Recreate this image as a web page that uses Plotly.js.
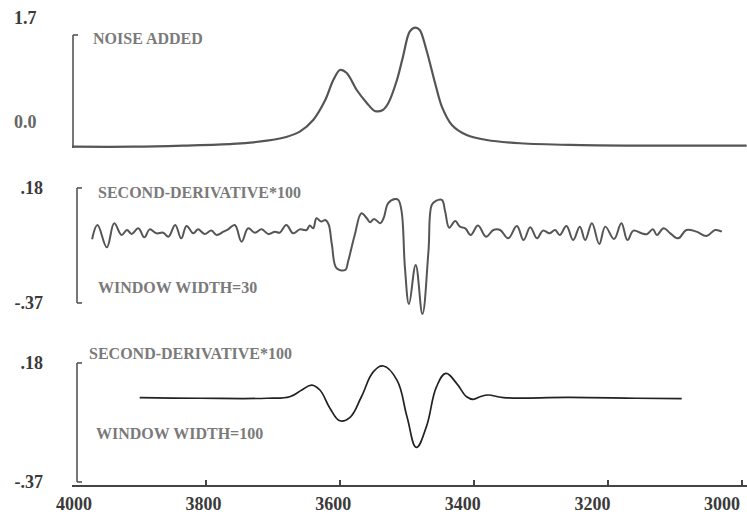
<!DOCTYPE html>
<html>
<head>
<meta charset="utf-8">
<script src="https://cdn.plot.ly/plotly-3.0.1.min.js"></script>
<style>html,body{margin:0;padding:0;background:#fff;}#chart{width:747px;height:516px;}</style>
</head>
<body>
<div id="chart"></div>
<script>
// ---- data (wavenumber, cm-1) ----
const noiseWn = [4000,3909,3834,3760,3709,3679,3660,3640,3622,3610,3600,3590,3575,3560,3548,3536,3528,3515,3506,3496,3488,3481,3471,3458,3448,3433,3411,3381,3331,3257,3157,2993];
const noiseAbs = [0.004,0.004,0.019,0.043,0.09,0.147,0.219,0.386,0.671,0.957,1.1,1.057,0.814,0.629,0.514,0.529,0.624,0.957,1.29,1.647,1.704,1.671,1.386,0.91,0.576,0.314,0.171,0.1,0.053,0.029,0.019,0.019];

const d30Wn = [3970,3962,3948,3937,3926,3918,3911,3901,3892,3884,3874,3864,3856,3846,3837,3829,3819,3812,3802,3792,3784,3774,3767,3757,3747,3737,3727,3717,3707,3697,3690,3680,3670,3660,3650,3645,3640,3635,3628,3622,3617,3612,3605,3592,3588,3578,3568,3560,3555,3549,3540,3535,3528,3518,3513,3508,3503,3497,3487,3477,3468,3463,3457,3448,3443,3437,3428,3421,3413,3405,3394,3382,3371,3361,3349,3336,3326,3316,3306,3297,3287,3279,3272,3262,3252,3242,3234,3224,3213,3204,3191,3180,3171,3162,3150,3142,3133,3127,3117,3107,3095,3083,3068,3053,3040,3030];
const d30Val = [-0.065,0.003,-0.104,0.011,-0.045,-0.021,-0.040,-0.013,-0.056,-0.018,-0.037,-0.034,-0.053,0.003,-0.061,-0.002,-0.037,-0.018,-0.040,-0.024,-0.045,-0.029,-0.018,0.003,-0.077,-0.013,-0.034,-0.018,-0.040,-0.029,-0.034,0.003,-0.037,-0.018,-0.021,0.000,-0.013,0.035,0.019,0.027,0.006,-0.093,-0.204,-0.212,-0.173,-0.045,0.059,0.035,0.016,0.032,0.011,0.035,0.107,0.127,0.123,0.067,-0.204,-0.375,-0.188,-0.423,-0.125,0.099,0.118,0.123,0.067,-0.010,0.022,-0.005,-0.013,-0.045,0.000,-0.053,-0.021,-0.021,-0.061,-0.002,-0.069,-0.008,-0.061,-0.024,-0.037,-0.021,-0.045,-0.002,-0.069,-0.005,-0.069,0.011,-0.088,-0.005,-0.064,0.011,-0.069,-0.024,-0.037,-0.041,-0.018,-0.045,-0.013,-0.037,-0.061,-0.021,-0.029,-0.050,-0.021,-0.029];

const d100Wn = [3899,3809,3709,3675,3657,3642,3630,3615,3600,3585,3568,3550,3535,3515,3500,3486,3471,3456,3442,3426,3411,3401,3391,3379,3356,3257,3157,3090];
const d100Val = [0.020,0.017,0.017,0.024,0.055,0.078,0.055,-0.029,-0.087,-0.071,0.024,0.140,0.166,0.101,-0.068,-0.210,-0.114,0.070,0.132,0.086,0.024,0.012,0.024,0.032,0.020,0.021,0.017,0.015];

const xTicks = [4000,3800,3600,3400,3200,3000];
const xTickText = ['4000','3800','3600','3400','3200','3000'];
const topTickText = ['1.7','0.0'];
const derivTickVals = [0.18,-0.37];
const derivTickText = ['.18','-.37'];
const panelLabels = ['NOISE ADDED','SECOND-DERIVATIVE*100','WINDOW WIDTH=30','SECOND-DERIVATIVE*100','WINDOW WIDTH=100'];

// ---- styling ----
const serif = 'Liberation Serif, Times New Roman, serif';
const tickFont = {family: serif, size: 18, color: '#3a3a3a', weight: 'bold'};
const labelFont = {family: serif, size: 16, color: '#7a7a7a', weight: 'bold'};

const traces = [
  {x: noiseWn, y: noiseAbs, xaxis: 'x', yaxis: 'y', mode: 'lines',
   line: {color: '#555', width: 2.2, shape: 'spline', smoothing: 0.9}, hoverinfo: 'skip'},
  {x: d30Wn, y: d30Val, xaxis: 'x', yaxis: 'y2', mode: 'lines',
   line: {color: '#555', width: 2, shape: 'spline', smoothing: 1.1}, hoverinfo: 'skip'},
  {x: d100Wn, y: d100Val, xaxis: 'x', yaxis: 'y3', mode: 'lines',
   line: {color: '#222', width: 1.7, shape: 'spline', smoothing: 1.2}, hoverinfo: 'skip'},
  // label-only axis trace (invisible)
  {x: [xTicks[0]], y: [0], xaxis: 'x2', yaxis: 'y3', mode: 'markers', marker: {opacity: 0}, hoverinfo: 'skip'}
];

// pixel helpers for paper coordinates (plot area 72..747 x, 10..485 y)
const px = v => (v - 72) / 675;
const py = v => (485 - v) / 475;

const bracketColor = '#555';
function bracket(xp, yref, top, bottom, bottomTick) {
  const s = [
    {type: 'line', xref: 'paper', yref: yref, x0: px(xp), x1: px(xp), y0: bottom, y1: top, line: {color: bracketColor, width: 1.6}},
    {type: 'line', xref: 'paper', yref: yref, x0: px(xp), x1: px(xp + 5), y0: top, y1: top, line: {color: bracketColor, width: 1.6}}
  ];
  if (bottomTick) s.push({type: 'line', xref: 'paper', yref: yref, x0: px(xp), x1: px(xp + 5), y0: bottom, y1: bottom, line: {color: bracketColor, width: 1.6}});
  return s;
}

const shapes = [].concat(
  bracket(73, 'y', 1.6, -0.014, false),
  bracket(77, 'y2', 0.18, -0.37, true),
  bracket(77, 'y3', 0.18, -0.37, true)
);

const annotations = [
  {text: panelLabels[0], xref: 'paper', yref: 'paper', x: px(91), y: py(38), xanchor: 'left', yanchor: 'middle', showarrow: false, font: labelFont},
  {text: panelLabels[1], xref: 'paper', yref: 'paper', x: px(96), y: py(192), xanchor: 'left', yanchor: 'middle', showarrow: false, font: labelFont},
  {text: panelLabels[2], xref: 'paper', yref: 'paper', x: px(96), y: py(287), xanchor: 'left', yanchor: 'middle', showarrow: false, font: labelFont},
  {text: panelLabels[3], xref: 'paper', yref: 'paper', x: px(87), y: py(353), xanchor: 'left', yanchor: 'middle', showarrow: false, font: labelFont},
  {text: panelLabels[4], xref: 'paper', yref: 'paper', x: px(94), y: py(433), xanchor: 'left', yanchor: 'middle', showarrow: false, font: labelFont},
  {text: topTickText[0], xref: 'paper', yref: 'paper', x: px(39), y: py(18), xanchor: 'right', yanchor: 'middle', showarrow: false, font: tickFont},
  {text: topTickText[1], xref: 'paper', yref: 'paper', x: px(39), y: py(122), xanchor: 'right', yanchor: 'middle', showarrow: false, font: Object.assign({}, tickFont, {color: '#666'})}
];

const hiddenY = {showline: false, showgrid: false, zeroline: false, ticks: '', fixedrange: true};

const layout = {
  width: 747, height: 516,
  margin: {l: 72, r: 0, t: 10, b: 31},
  paper_bgcolor: '#fff', plot_bgcolor: '#fff',
  showlegend: false,
  xaxis: {range: [4000, 2992.5], anchor: 'y3', showline: true, linecolor: '#444', linewidth: 1.5,
          ticks: 'inside', ticklen: 5, tickwidth: 1.5, tickcolor: '#444', tickvals: xTicks,
          showticklabels: false, showgrid: false, zeroline: false},
  xaxis2: {range: [4003.1, 2961.4], overlaying: 'x', anchor: 'y3', side: 'bottom', showline: false,
           ticks: '', tickvals: xTicks, ticktext: xTickText, tickfont: tickFont, ticklabelstandoff: 6,
           showgrid: false, zeroline: false},
  yaxis: Object.assign({domain: [0.7011, 1.0], range: [-0.0714, 1.957], anchor: 'x', showticklabels: false}, hiddenY),
  yaxis2: Object.assign({domain: [0.3368, 0.6421], range: [-0.4755, 0.218], anchor: 'x',
           tickvals: derivTickVals, ticktext: derivTickText, tickfont: tickFont, ticklabelstandoff: 28}, hiddenY),
  yaxis3: Object.assign({domain: [0, 0.2737], range: [-0.384, 0.217], anchor: 'x',
           tickvals: derivTickVals, ticktext: derivTickText, tickfont: tickFont, ticklabelstandoff: 28}, hiddenY),
  shapes: shapes,
  annotations: annotations
};

Plotly.newPlot('chart', traces, layout, {staticPlot: true, displayModeBar: false});
</script>
</body>
</html>
